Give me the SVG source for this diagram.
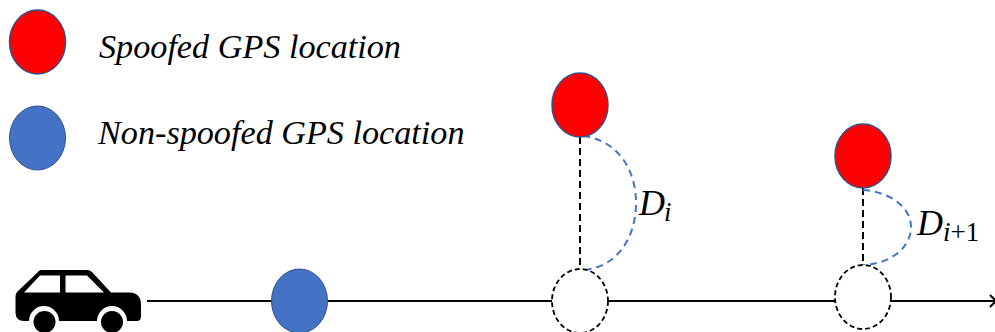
<svg xmlns="http://www.w3.org/2000/svg" width="995" height="332" viewBox="0 0 995 332">
<style>
.red{fill:#ff0000;stroke:#2f528f;stroke-width:1.500}
.blue{fill:#4472c4;stroke:#2f528f;stroke-width:1}
.ghost{fill:#fff;stroke:#000;stroke-width:1.800;stroke-dasharray:5 3}
.legend{font-family:"Liberation Serif",serif;font-style:italic;font-size:34.200px;fill:#000}
.math{font-family:"Liberation Serif",serif;font-style:italic;font-size:36px;fill:#000}
.sub{font-size:27px}
.up{font-style:normal}
.road{stroke:#000;stroke-width:2;fill:none}
.drop{stroke:#000;stroke-width:2;stroke-dasharray:7 4;fill:none}
.arc{stroke:#4472c4;stroke-width:2;stroke-dasharray:7 5;fill:none}
</style>
<g id="connectors">
<path class="road" d="M147 301H995"/>
<path class="road" d="M990 295L996 301L990 307"/>
<path class="drop" d="M580 137V270"/>
<path class="drop" d="M863 188V265"/>
<path class="arc" d="M583 136C618 140 636 170 636 203C636 240 615 268 583 270"/>
<path class="arc" d="M863 190C890 192 911 207 911 227C911 248 890 264 863 265"/>
</g>
<g id="legend-spoofed"><ellipse class="red" cx="37.500" cy="42" rx="28" ry="32"/><text class="legend" x="99" y="58">Spoofed GPS location</text></g>
<g id="legend-non-spoofed"><ellipse class="blue" cx="37.500" cy="138" rx="28" ry="32"/><text class="legend" x="98" y="144">Non-spoofed GPS location</text></g>
<g id="car">
<path fill="#000" d="M41 270H87Q90 270 92 272L111 292.500H130Q141 293 141 305V316Q141 321 137 321H127A15 15 0 0 0 97 321H59A15 15 0 0 0 29 321H24Q16 321 15.500 313V296Q15.500 293 18 291L37 273Q39 270 41 270Z"/>
<path fill="#fff" d="M24 292.500L40 275.500H60V292.500ZM65.500 275.500H87L104 292.500H65.500Z"/>
<circle fill="#000" cx="44.500" cy="322" r="11"/><circle fill="#000" cx="112" cy="322" r="11"/>
</g>
<g id="point-blue"><ellipse class="blue" cx="299.500" cy="301" rx="28" ry="32"/></g>
<g id="spoofed-i"><ellipse class="red" cx="580" cy="105" rx="28" ry="32"/></g>
<g id="actual-i"><ellipse class="ghost" cx="580" cy="301" rx="28" ry="32"/></g>
<g id="spoofed-i1"><ellipse class="red" cx="863" cy="156" rx="28" ry="32"/></g>
<g id="actual-i1"><ellipse class="ghost" cx="863" cy="297" rx="28" ry="32"/></g>
<g id="label-di"><text class="math" x="639" y="215">D<tspan class="sub" dy="6" dx="-1">i</tspan></text></g>
<g id="label-di1"><text class="math" x="917" y="235">D<tspan class="sub" dy="6">i<tspan class="up">+1</tspan></tspan></text></g>
</svg>
